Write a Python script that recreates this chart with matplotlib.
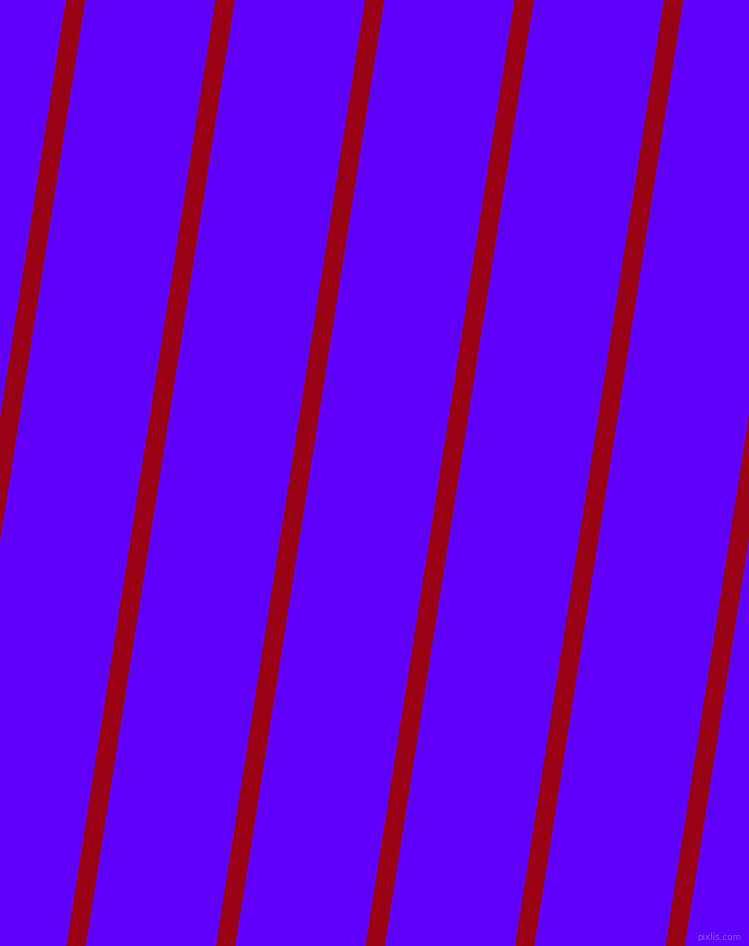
import matplotlib
matplotlib.use('Agg')
import matplotlib.pyplot as plt

# centros de las franjas en el borde superior (px) y desplazamiento hasta el borde inferior
x_top = [-74.0, 75.5, 225.0, 374.5, 524.0, 673.5, 824.0]
drift = -149.0
stripe_w = 19.5

bg_color = '#5f00ff'
stripe_color = '#990014'

W, H = 749, 946

fig = plt.figure(figsize=(W / 100, H / 100), dpi=100)
ax = fig.add_axes([0, 0, 1, 1])
ax.set_xlim(0, W)
ax.set_ylim(H, 0)
ax.axis('off')
fig.patch.set_facecolor(bg_color)
ax.set_facecolor(bg_color)

for xc in x_top:
    xs = [xc - stripe_w / 2, xc + stripe_w / 2,
          xc + drift + stripe_w / 2, xc + drift - stripe_w / 2]
    ys = [0, 0, H, H]
    ax.fill(xs, ys, color=stripe_color, lw=0)

ax.text(741, 937, 'pixlis.com', color='#9a66ff', fontsize=6.3,
        ha='right', va='center', alpha=0.85)

plt.savefig('out.png', dpi=100, facecolor=bg_color)
